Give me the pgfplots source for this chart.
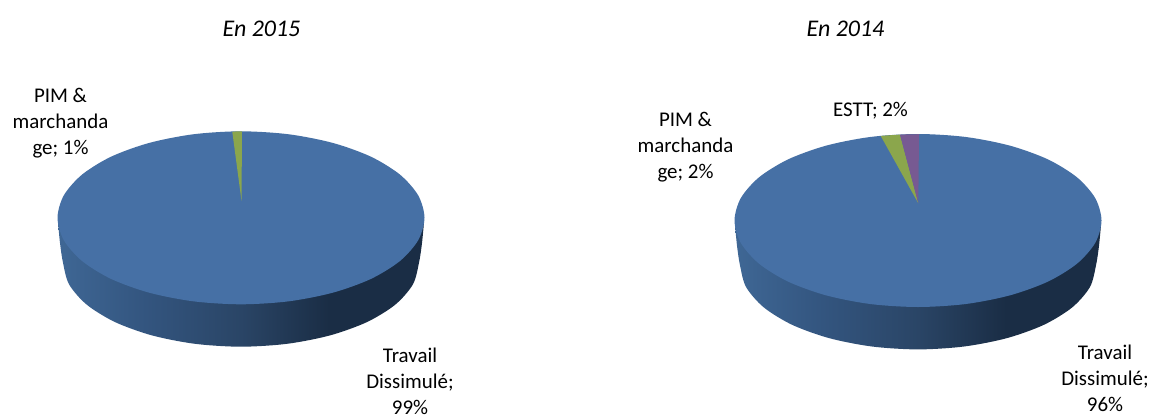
\documentclass[border=0pt]{standalone}
\usepackage{fontspec}
\setmainfont{Carlito}
\usepackage{pgfplots}
\pgfplotsset{compat=1.18}

\definecolor{topblue}{HTML}{4670A5}
\definecolor{wedgegreen}{HTML}{8BA64C}
\definecolor{wedgepurple}{HTML}{775A92}
\definecolor{sideA}{HTML}{3F6795}
\definecolor{sideB}{HTML}{33557F}
\definecolor{sideC}{HTML}{2A4566}
\definecolor{sideD}{HTML}{1A2D45}
\pgfdeclarehorizontalshading{pieside}{100bp}{
  color(0bp)=(sideA); color(25bp)=(sideA);
  color(37bp)=(sideB); color(50bp)=(sideC);
  color(62bp)=(sideD); color(100bp)=(sideD)}
\tikzset{lab/.style={font=\fontsize{21}{26}\selectfont, align=center, inner sep=0pt},
         ttl/.style={font=\fontsize{24}{26}\selectfont\itshape, inner sep=0pt}}

\begin{document}
\begin{tikzpicture}
\path[use as bounding box] (0,0) rectangle (1151bp,416bp);
\begin{axis}[
    at={(0,0)}, anchor=south west,
    scale only axis,
    width=1151bp, height=416bp,
    xmin=0, xmax=1151,
    ymin=0, ymax=416,
    y dir=reverse,
    hide axis,
    clip=false,
]
% 2015: side wall
\addplot[draw=none, shading=pieside, smooth] coordinates {
    (58,222)(60,243)(63,262.7)(69.1,284.4)(86.8,304.7)(115.1,322.1)(152,335.4)(194.9,343.8)
    (241,346.7)(287.1,343.8)(330,335.4)(366.9,322.1)(395.2,304.7)(412.9,284.4)(419,262.7)(422,243)(424,222)
};
% 2015: top face
\addplot[draw=none, fill=topblue, smooth cycle] coordinates {
    (241,131.3)(288.5,134.25)(332.75,142.9)(370.75,156.6)(399.9,174.55)(418.2,195.4)
    (424.5,217.8)(418.2,240.2)(399.9,261.05)(370.75,279)(332.75,292.7)(288.5,301.35)
    (241,304.3)(193.5,301.35)(149.25,292.7)(111.25,279)(82.1,261.05)(63.8,240.2)
    (57.5,217.8)(63.8,195.4)(82.1,174.55)(111.25,156.6)(149.25,142.9)(193.5,134.25)
};
% 2015: PIM 1%
\addplot[draw=none, fill=wedgegreen] coordinates {(241.5,200.7)(232.3,131.8)(236.5,131.4)(242,131.3)};

% 2014: side wall
\addplot[draw=none, shading=pieside, smooth] coordinates {
    (735,224.7)(737,245.7)(740,265.4)(746.1,287.1)(763.8,307.4)(792.1,324.8)(829,338.1)(871.9,346.5)
    (918,349.4)(964.1,346.5)(1007,338.1)(1043.9,324.8)(1072.2,307.4)(1089.9,287.1)(1096,265.4)(1099,245.7)(1101,224.7)
};
% 2014: top face
\addplot[draw=none, fill=topblue, smooth cycle] coordinates {
    (918,134)(965.5,136.95)(1009.75,145.6)(1047.75,159.3)(1076.9,177.25)(1095.2,198.1)
    (1101.5,220.5)(1095.2,242.9)(1076.9,263.75)(1047.75,281.7)(1009.75,295.4)(965.5,304.05)
    (918,307)(870.5,304.05)(826.25,295.4)(788.25,281.7)(759.1,263.75)(740.8,242.9)
    (734.5,220.5)(740.8,198.1)(759.1,177.25)(788.25,159.3)(826.25,145.6)(870.5,136.95)
};
% 2014: PIM 2%, ESTT 2%
\addplot[draw=none, fill=wedgegreen] coordinates {(918.3,203.3)(880.7,135.9)(900,134.6)};
\addplot[draw=none, fill=wedgepurple] coordinates {(918.3,203.3)(900,134.6)(919,134.2)};

\node[ttl] at (axis cs:261.5,29) {En 2015};
\node[ttl] at (axis cs:845.5,29) {En 2014};
\node[lab] at (axis cs:60.5,123) {PIM \&\\marchanda\\ge; 1\%};
\node[lab] at (axis cs:410,381) {Travail\\Dissimulé;\\99\%};
\node[lab] at (axis cs:685.5,147) {PIM \&\\marchanda\\ge; 2\%};
\node[lab] at (axis cs:870.5,110.5) {ESTT; 2\%};
\node[lab] at (axis cs:1105,378) {Travail\\Dissimulé;\\96\%};
\end{axis}
\end{tikzpicture}
\end{document}
